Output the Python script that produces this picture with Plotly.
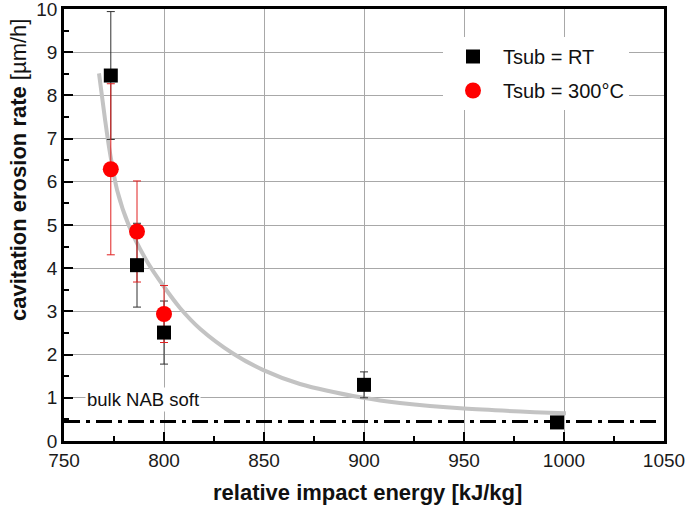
import plotly.graph_objects as go

# RT substrate data
rt_x = [773.4, 786.5, 800.0, 900.0, 996.5]
rt_y = [8.46, 4.07, 2.51, 1.30, 0.43]
rt_err = [1.48, 0.97, 0.73, 0.30, 0.0]

# 300°C substrate data
hot_x = [773.4, 786.5, 800.0]
hot_y = [6.29, 4.85, 2.94]
hot_err = [1.98, 1.17, 0.66]

# fitted trend curve
fit_x = [767.5, 770.5, 772.8, 776.6, 782.5, 791.6, 800.0, 808.0, 818.0, 834.7, 849.7, 868.0, 899.7, 918.0, 950.0, 1001.0]
fit_y = [8.51, 7.45, 6.72, 5.80, 4.98, 4.15, 3.57, 3.08, 2.60, 2.02, 1.64, 1.32, 1.00, 0.88, 0.75, 0.64]

# bulk NAB soft reference level
bulk_x = [750, 1047]
bulk_y = [0.45, 0.45]

x_ticks = [750, 800, 850, 900, 950, 1000, 1050]
y_ticks = list(range(0, 11))

FONT = "Liberation Sans, Arial, sans-serif"

fig = go.Figure()

fig.add_trace(go.Scatter(
    x=bulk_x, y=bulk_y, mode="lines",
    line=dict(color="black", width=3, dash="16px,6px,4px,6px"),
    showlegend=False, hoverinfo="skip"))

fig.add_trace(go.Scatter(
    x=fit_x, y=fit_y, mode="lines",
    line=dict(color="#c3c3c3", width=4, shape="spline", smoothing=0.8),
    showlegend=False, hoverinfo="skip"))

# error bars first (black then red), markers on top
fig.add_trace(go.Scatter(
    x=rt_x, y=rt_y, mode="markers",
    marker=dict(size=1, color="rgba(0,0,0,0)"),
    error_y=dict(type="data", array=rt_err, color="#303030", thickness=1, width=4),
    showlegend=False, hoverinfo="skip"))
fig.add_trace(go.Scatter(
    x=hot_x, y=hot_y, mode="markers",
    marker=dict(size=1, color="rgba(0,0,0,0)"),
    error_y=dict(type="data", array=hot_err, color="#e02020", thickness=1, width=4),
    showlegend=False, hoverinfo="skip"))

fig.add_trace(go.Scatter(
    x=rt_x, y=rt_y, mode="markers", name="Tsub = RT",
    marker=dict(symbol="square", size=14, color="black"),
    legendgroup="a"))
fig.add_trace(go.Scatter(
    x=hot_x, y=hot_y, mode="markers", name="Tsub = 300°C",
    marker=dict(symbol="circle", size=16, color="#ff0000"),
    legendgroup="b"))

axis_common = dict(
    showline=True, linewidth=2.5, linecolor="black", mirror=True,
    ticks="inside", ticklen=9, tickwidth=2, tickcolor="black",
    showgrid=True, gridcolor="#a8a8a8", gridwidth=1,
    zeroline=False, automargin=False, ticklabeloverflow="allow",
    tickfont=dict(family=FONT, size=19, color="#1a1a1a"),
)

fig.update_xaxes(
    range=[750, 1050], tickvals=x_ticks,
    minor=dict(ticks="inside", ticklen=5, tickwidth=2, tickcolor="black", dtick=25, showgrid=False),
    **axis_common)
fig.update_yaxes(
    range=[0, 10], tickvals=y_ticks,
    minor=dict(ticks="inside", ticklen=5, tickwidth=2, tickcolor="black", dtick=0.5, showgrid=False),
    **axis_common)

fig.add_annotation(
    xref="paper", yref="paper", x=0, y=(441 - 170) / 432, xshift=-46,
    text="<b>cavitation erosion rate</b> [µm/h]", textangle=-90,
    showarrow=False, font=dict(family=FONT, size=22, color="#111"),
    xanchor="center", yanchor="middle")

fig.add_annotation(
    xref="paper", yref="paper", x=(367 - 64) / 600, y=(441 - 492) / 432,
    text="<b>relative impact energy [kJ/kg]</b>",
    showarrow=False, font=dict(family=FONT, size=22, color="#111"),
    xanchor="center", yanchor="middle")

fig.add_annotation(
    x=760.5, y=0.95, xref="x", yref="y", xanchor="left", yanchor="middle",
    text="bulk NAB soft", showarrow=False, bgcolor="white",
    font=dict(family=FONT, size=18.5, color="#111"))

fig.update_layout(
    width=685, height=506,
    margin=dict(l=64, r=21, t=9, b=65),
    plot_bgcolor="white", paper_bgcolor="white",
    font=dict(family=FONT, color="#111"),
    legend=dict(x=(443 - 64) / 600, y=(441 - 37) / 432, xanchor="left", yanchor="top",
                bgcolor="white", borderwidth=0, itemwidth=50,
                font=dict(family=FONT, size=20, color="#111"),
                traceorder="grouped", tracegroupgap=5),
)

fig.write_html("out.html", config={"displayModeBar": False},
               post_script="document.body.style.margin='0px';")
